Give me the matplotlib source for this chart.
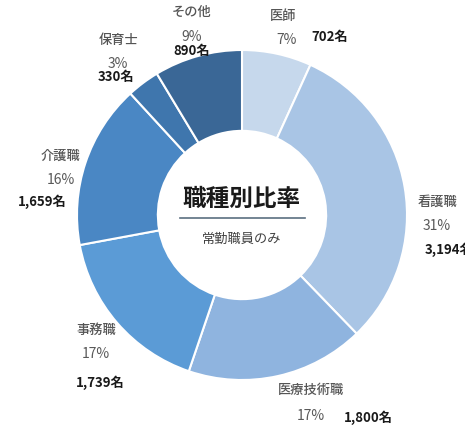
import matplotlib.pyplot as plt

plt.rcParams['font.family'] = ['Noto Sans CJK JP', 'DejaVu Sans']

# --- data ---
categories = ['医師', '看護職', '医療技術職', '事務職', '介護職', '保育士', 'その他']
counts = [702, 3194, 1800, 1739, 1659, 330, 890]
pct_labels = ['7%', '31%', '17%', '17%', '16%', '3%', '9%']
colors = ['#c6d8ec', '#a9c5e5', '#8fb4df', '#5b9bd6', '#4a87c4', '#3f76ad', '#3a6796']

# label layout in pixels (name, percent, count)
W, H = 465, 433
CX, CY, R = 242, 215, 165
label_px = [
    ((283, 16), (287, 40), (330, 37)),
    ((437, 202), (437, 226), (449, 250)),
    ((311, 390), (311, 416), (368, 418)),
    ((96, 330), (96, 354), (100, 383)),
    ((60, 156), (61, 180), (42, 202)),
    ((119, 40), (118, 64), (116, 77)),
    ((192, 12), (192, 37), (192, 51)),
]

def to_data(p):
    return (p[0] - CX) / R, (CY - p[1]) / R

fig = plt.figure(figsize=(W / 100, H / 100), dpi=100)
ax = fig.add_axes([0, 0, 1, 1])
ax.pie(counts, colors=colors, startangle=90, counterclock=False,
       radius=1.0, wedgeprops=dict(width=0.49, edgecolor='white', linewidth=1.5))
ax.set_xlim(-CX / R, (W - CX) / R)
ax.set_ylim(-(H - CY) / R, CY / R)
ax.set_aspect('equal')
ax.axis('off')

for cat, pct, n, (p1, p2, p3) in zip(categories, pct_labels, counts, label_px):
    ax.text(*to_data(p1), cat, ha='center', va='center', fontsize=9.5,
            color='#555555', fontweight='medium')
    ax.text(*to_data(p2), pct, ha='center', va='center', fontsize=10, color='#595959')
    ax.text(*to_data(p3), f'{n:,}名', ha='center', va='center', fontsize=9.5,
            color='#1a1a1a', fontweight='bold')

# center title
ax.text(*to_data((242, 199)), '職種別比率', ha='center', va='center',
        fontsize=17, fontweight='bold', color='#1a1a1a')
x0, y0 = to_data((180, 218))
x1, _ = to_data((305, 218))
ax.plot([x0, x1], [y0, y0], color='#5b6f80', linewidth=1.2)
ax.text(*to_data((242, 239)), '常勤職員のみ', ha='center', va='center',
        fontsize=9.5, color='#404040')

fig.savefig('out.png', dpi=100)
